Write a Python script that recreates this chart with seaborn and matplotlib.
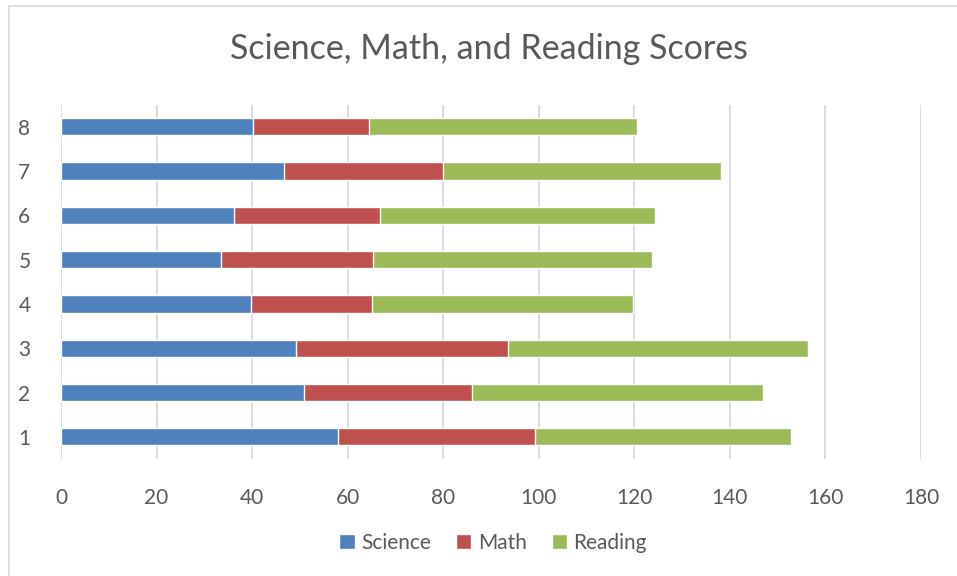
import seaborn as sns
import matplotlib.pyplot as plt
import pandas as pd
from matplotlib.patches import Rectangle

# scores per student
students = ['1', '2', '3', '4', '5', '6', '7', '8']
science = [57.9, 50.9, 49.2, 39.7, 33.5, 36.3, 46.6, 40.2]
math = [41.4, 35.1, 44.4, 25.4, 31.9, 30.4, 33.3, 24.3]
reading = [53.5, 60.9, 62.7, 54.7, 58.2, 57.6, 58.2, 56.1]
x_ticks = [0, 20, 40, 60, 80, 100, 120, 140, 160, 180]

colors = {'Science': '#4F81BD', 'Math': '#C0504D', 'Reading': '#9BBB59'}
text_color = '#595959'

sns.set_theme(style="white")
plt.rcParams['font.family'] = ['Lato', 'DejaVu Sans']

data = pd.DataFrame({'student': students, 'Science': science,
                     'Math': math, 'Reading': reading})
# cumulative ends so the stacks can be drawn back to front
data['sci_end'] = data['Science']
data['math_end'] = data['Science'] + data['Math']
data['read_end'] = data['math_end'] + data['Reading']

fig = plt.figure(figsize=(9.57, 5.76), dpi=100)
ax = fig.add_axes([61 / 957, 1 - 459 / 576, 860 / 957, 354.5 / 576])

order = students[::-1]
for col, name in [('read_end', 'Reading'), ('math_end', 'Math'), ('sci_end', 'Science')]:
    sns.barplot(data=data, x=col, y='student', order=order, color=colors[name],
                width=0.39, saturation=1, ax=ax, label=name)

ax.set_xlim(0, 180)
ax.set_xticks(x_ticks)
ax.set_xlabel('')
ax.set_ylabel('')
ax.grid(axis='x', color='#d9d9d9', linewidth=1.3)
ax.set_axisbelow(True)
sns.despine(ax=ax, left=True, bottom=True)
ax.tick_params(axis='both', length=0, labelsize=15, labelcolor=text_color)
ax.tick_params(axis='x', pad=21)
ax.tick_params(axis='y', pad=22)

fig.suptitle('Science, Math, and Reading Scores', x=489 / 957, y=1 - 49 / 576,
             va='center', fontsize=24.5, color=text_color)

handles, labels = ax.get_legend_handles_labels()
lookup = dict(zip(labels, handles))
legend_order = ['Science', 'Math', 'Reading']
fig.legend([lookup[k] for k in legend_order], legend_order, loc='center',
           bbox_to_anchor=(493 / 957, 1 - 543 / 576), ncol=3, frameon=False,
           fontsize=15, labelcolor=text_color, handlelength=0.75, handleheight=0.75,
           handletextpad=0.3, columnspacing=1.2)
if ax.get_legend() is not None:
    ax.get_legend().remove()

# thin chart-area border
fig.patches.append(Rectangle((9 / 957, -0.01), 1.0, 1 - 6 / 576 + 0.01,
                             transform=fig.transFigure, fill=False,
                             edgecolor='#d9d9d9', linewidth=1.2))

fig.savefig('out.png', dpi=100)
